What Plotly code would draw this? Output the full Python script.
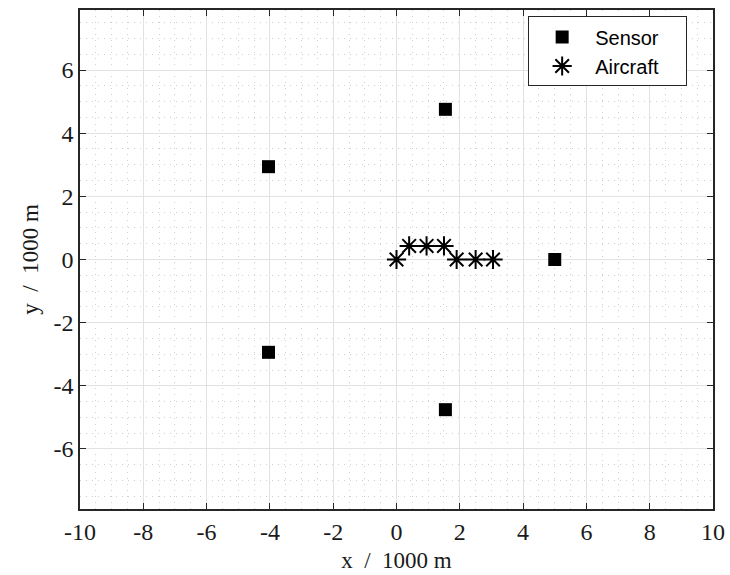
import plotly.graph_objects as go

sensor_x = [5.0, 1.545, -4.045, -4.045, 1.545]
sensor_y = [0.0, 4.755, 2.939, -2.939, -4.755]
aircraft_x = [0.0, 0.4, 0.95, 1.5, 1.9, 2.5, 3.05]
aircraft_y = [0.0, 0.43, 0.43, 0.43, 0.0, 0.0, 0.0]

xtick_vals = [-10, -8, -6, -4, -2, 0, 2, 4, 6, 8, 10]
xtick_text = ["-10", "-8", "-6", "-4", "-2", "0", "2", "4", "6", "8", "10"]
ytick_vals = [-6, -4, -2, 0, 2, 4, 6]
ytick_text = ["-6", "-4", "-2", "0", "2", "4", "6"]

pad = "\u00a0\u00a0\u00a0\u00a0"

fig = go.Figure()
fig.add_trace(go.Scatter(x=sensor_x, y=sensor_y, mode="markers", name="Sensor" + pad,
                         marker=dict(symbol="square", size=13, color="black")))
fig.add_trace(go.Scatter(x=aircraft_x, y=aircraft_y, mode="markers", name="Aircraft" + pad,
                         marker=dict(symbol="asterisk-open", size=16, color="black",
                                     line=dict(color="black", width=2))))

serif = "Liberation Serif, DejaVu Serif, serif"
axis_common = dict(
    showline=True, linecolor="#262626", linewidth=1.5, mirror="ticks",
    ticks="inside", ticklen=6, tickwidth=1.2, tickcolor="#262626",
    showgrid=True, gridcolor="#e2e2e2", gridwidth=1,
    zeroline=False, automargin=False,
    tickfont=dict(family=serif, size=24, color="#1a1a1a"),
    minor=dict(dtick=0.5, showgrid=True, gridcolor="#cfcfcf", griddash="1px,5px", gridwidth=1, ticks=""),
)

fig.update_layout(
    width=730, height=575,
    margin=dict(l=80, r=17, t=10, b=66),
    paper_bgcolor="white", plot_bgcolor="white",
    xaxis=dict(range=[-10, 10], tickvals=xtick_vals, ticktext=xtick_text,
               title=dict(text="x  /  1000 m", font=dict(family=serif, size=23, color="#1a1a1a"), standoff=8),
               **axis_common),
    yaxis=dict(range=[-7.9, 7.9], tickvals=ytick_vals, ticktext=ytick_text,
               title=dict(text="y  /  1000 m", font=dict(family=serif, size=23, color="#1a1a1a"), standoff=8),
               **axis_common),
    legend=dict(x=0.708, y=0.987, xanchor="left", yanchor="top",
                bgcolor="white", bordercolor="#262626", borderwidth=1,
                font=dict(family="Liberation Sans, Arial, sans-serif", size=20, color="black"),
                itemwidth=56, tracegroupgap=0),
    showlegend=True,
)

fig.write_html("out.html")
